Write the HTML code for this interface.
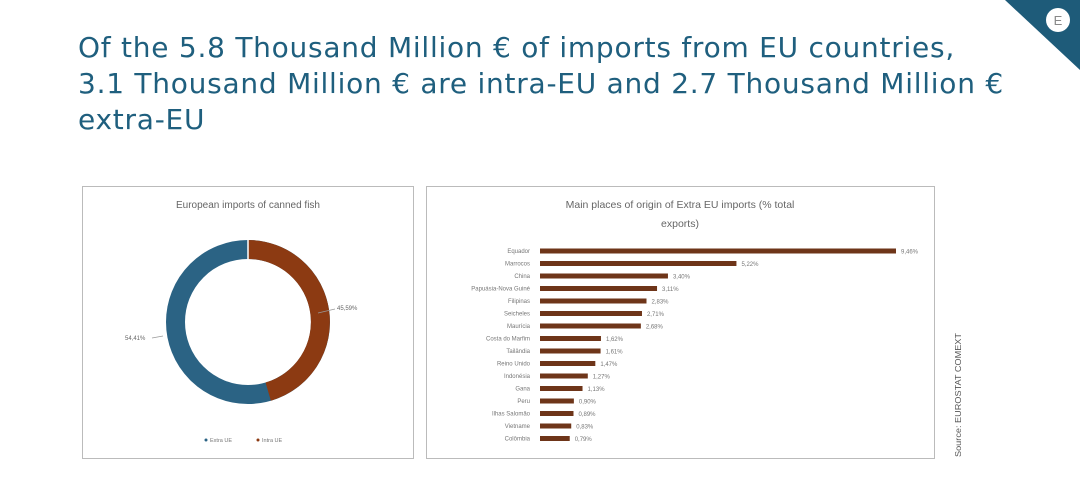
<!DOCTYPE html>
<html><head><meta charset="utf-8"><style>
body{margin:0;width:1080px;height:485px;background:#fff;overflow:hidden;font-family:"Liberation Sans",sans-serif;position:relative}
.t{position:absolute;left:78px;top:30px;font-family:"DejaVu Sans",sans-serif;font-size:28px;letter-spacing:0.75px;line-height:36px;color:#1f5f7e;white-space:nowrap}
.box{position:absolute;border:1px solid #bbb;background:#fff}
</style></head><body>
<svg style="position:absolute;left:0;top:0" width="1080" height="485">
<polygon points="1005,0 1080,0 1080,70" fill="#1e5b79"/>
<circle cx="1058" cy="20" r="12" fill="#fff"/>
<text x="1058" y="25" font-size="13" text-anchor="middle" fill="#888" font-family="Liberation Sans">E</text>
</svg>
<div class="t">Of the 5.8 Thousand Million € of imports from EU countries,<br>3.1 Thousand Million € are intra-EU and 2.7 Thousand Million €<br>extra-EU</div>
<div class="box" style="left:82px;top:186px;width:330px;height:271px"></div>
<div class="box" style="left:426px;top:186px;width:507px;height:271px"></div>
<svg style="position:absolute;left:0;top:0" width="1080" height="485" font-family="Liberation Sans">
<text x="248" y="208" font-size="10" fill="#666" text-anchor="middle">European imports of canned fish</text>
<circle cx="248" cy="322" r="72.5" fill="none" stroke="#2b6384" stroke-width="19"/>
<path d="M248,249.5 A72.5,72.5 0 0 1 268.2,391.6" fill="none" stroke="#8c3a12" stroke-width="19"/>
<line x1="248" y1="240" x2="248" y2="259" stroke="#fff" stroke-width="1.5"/>
<text x="337" y="310" font-size="6" fill="#666">45,59%</text>
<text x="125" y="340" font-size="6" fill="#666">54,41%</text>
<line x1="335" y1="309" x2="318" y2="313" stroke="#999" stroke-width="0.7"/>
<line x1="152" y1="338" x2="163" y2="336" stroke="#999" stroke-width="0.7"/>
<circle cx="206" cy="440" r="1.5" fill="#2b6384"/><text x="210" y="442" font-size="5.5" fill="#777">Extra UE</text>
<circle cx="258" cy="440" r="1.5" fill="#8c3a12"/><text x="262" y="442" font-size="5.5" fill="#777">Intra UE</text>
<text x="680" y="208" font-size="10.5" fill="#666" text-anchor="middle">Main places of origin of Extra EU imports (% total</text>
<text x="680" y="227" font-size="10.5" fill="#666" text-anchor="middle">exports)</text>
<g font-size="6" fill="#777">
<g id="b"></g>
</g>
<text transform="translate(961,457) rotate(-90)" font-size="8.5" fill="#555" textLength="124" lengthAdjust="spacingAndGlyphs">Source: EUROSTAT COMEXT</text>
</svg>
<script>
var d=[["Equador",9.46],["Marrocos",5.22],["China",3.40],["Papuásia-Nova Guiné",3.11],["Filipinas",2.83],["Seicheles",2.71],["Maurícia",2.68],["Costa do Marfim",1.62],["Tailândia",1.61],["Reino Unido",1.47],["Indonésia",1.27],["Gana",1.13],["Peru",0.90],["Ilhas Salomão",0.89],["Vietname",0.83],["Colômbia",0.79]];
var s="";d.forEach(function(r,i){var y=251+i*12.5,w=r[1]/9.46*356;
s+='<text x="530" y="'+(y+2)+'" text-anchor="end">'+r[0]+'</text><rect x="540" y="'+(y-2.5)+'" width="'+w+'" height="5" fill="#6e3519"/><text x="'+(545+w)+'" y="'+(y+2.5)+'">'+r[1].toFixed(2).replace(".",",")+'%</text>';});
document.getElementById("b").innerHTML=s;
</script>
</body></html>
